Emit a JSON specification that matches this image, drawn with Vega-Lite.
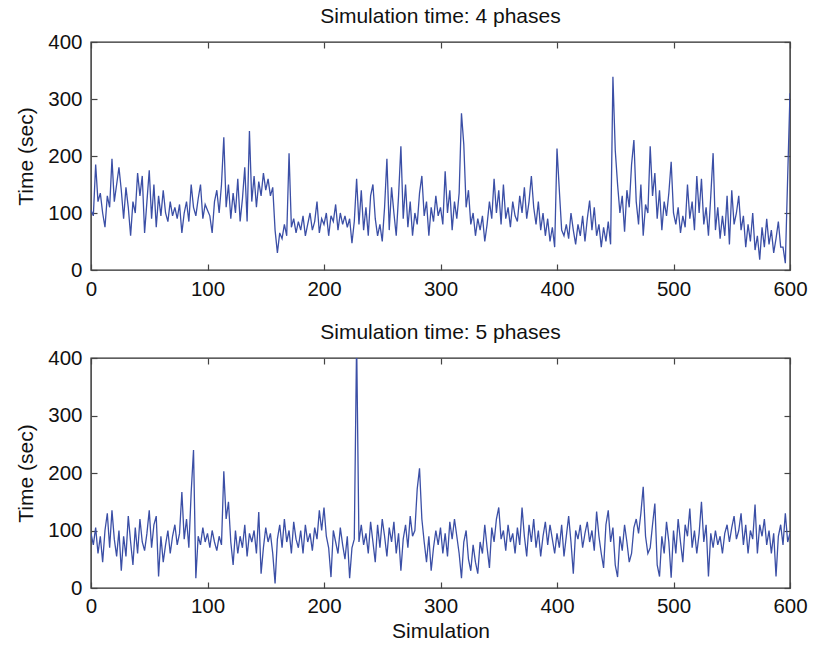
{
"$schema": "https://vega.github.io/schema/vega-lite/v6.json",
"background": "white",
"padding": {"left": 15, "top": 5, "right": 8, "bottom": 0},
"spacing": 20,
"config": {
 "font": "Liberation Sans",
 "view": {"stroke": "#2a2a2a", "strokeWidth": 1.4},
 "axis": {"labelFont": "Liberation Sans", "labelFontSize": 20.5, "labelColor": "#111", "titleFont": "Liberation Sans", "titleFontSize": 21, "titleFontWeight": "normal", "titleColor": "#111", "grid": false, "domain": false, "tickColor": "#444", "tickSize": -6, "tickWidth": 1.2, "labelFlush": false},
 "title": {"font": "Liberation Sans", "fontSize": 21, "fontWeight": "normal", "color": "#111", "offset": 5}
},
"datasets": {
"top": [
{"x":0,"y":105},{"x":2,"y":95},{"x":4,"y":185},{"x":6,"y":120},{"x":8,"y":135},{"x":10,"y":100},{"x":12,"y":75},{"x":14,"y":130},{"x":16,"y":110},{"x":18,"y":195},
{"x":20,"y":120},{"x":22,"y":150},{"x":24,"y":180},{"x":26,"y":140},{"x":28,"y":90},{"x":30,"y":145},{"x":32,"y":110},{"x":34,"y":60},{"x":36,"y":120},{"x":38,"y":100},
{"x":40,"y":170},{"x":42,"y":130},{"x":44,"y":165},{"x":46,"y":65},{"x":48,"y":120},{"x":50,"y":175},{"x":52,"y":90},{"x":54,"y":150},{"x":56,"y":75},{"x":58,"y":130},
{"x":60,"y":95},{"x":62,"y":140},{"x":64,"y":100},{"x":66,"y":85},{"x":68,"y":120},{"x":70,"y":95},{"x":72,"y":110},{"x":74,"y":90},{"x":76,"y":115},{"x":78,"y":65},
{"x":80,"y":100},{"x":82,"y":120},{"x":84,"y":85},{"x":86,"y":150},{"x":88,"y":110},{"x":90,"y":95},{"x":92,"y":125},{"x":94,"y":150},{"x":96,"y":90},{"x":98,"y":115},
{"x":100,"y":105},{"x":102,"y":95},{"x":104,"y":65},{"x":106,"y":120},{"x":108,"y":140},{"x":110,"y":100},{"x":112,"y":150},{"x":114,"y":233},{"x":116,"y":110},{"x":118,"y":150},
{"x":120,"y":90},{"x":122,"y":135},{"x":124,"y":100},{"x":126,"y":160},{"x":128,"y":85},{"x":130,"y":125},{"x":132,"y":180},{"x":134,"y":85},{"x":136,"y":244},{"x":138,"y":120},
{"x":140,"y":165},{"x":142,"y":110},{"x":144,"y":155},{"x":146,"y":130},{"x":148,"y":170},{"x":150,"y":140},{"x":152,"y":160},{"x":154,"y":130},{"x":156,"y":145},{"x":158,"y":70},
{"x":160,"y":30},{"x":162,"y":65},{"x":164,"y":55},{"x":166,"y":80},{"x":168,"y":60},{"x":170,"y":205},{"x":172,"y":75},{"x":174,"y":90},{"x":176,"y":65},{"x":178,"y":85},
{"x":180,"y":70},{"x":182,"y":95},{"x":184,"y":60},{"x":186,"y":80},{"x":188,"y":100},{"x":190,"y":70},{"x":192,"y":85},{"x":194,"y":120},{"x":196,"y":65},{"x":198,"y":90},
{"x":200,"y":80},{"x":202,"y":100},{"x":204,"y":60},{"x":206,"y":95},{"x":208,"y":85},{"x":210,"y":115},{"x":212,"y":70},{"x":214,"y":100},{"x":216,"y":80},{"x":218,"y":95},
{"x":220,"y":75},{"x":222,"y":90},{"x":224,"y":47},{"x":226,"y":85},{"x":228,"y":160},{"x":230,"y":80},{"x":232,"y":140},{"x":234,"y":70},{"x":236,"y":110},{"x":238,"y":60},
{"x":240,"y":130},{"x":242,"y":150},{"x":244,"y":90},{"x":246,"y":60},{"x":248,"y":80},{"x":250,"y":50},{"x":252,"y":110},{"x":254,"y":195},{"x":256,"y":70},{"x":258,"y":145},
{"x":260,"y":100},{"x":262,"y":60},{"x":264,"y":130},{"x":266,"y":217},{"x":268,"y":90},{"x":270,"y":150},{"x":272,"y":75},{"x":274,"y":120},{"x":276,"y":60},{"x":278,"y":100},
{"x":280,"y":80},{"x":282,"y":135},{"x":284,"y":165},{"x":286,"y":95},{"x":288,"y":120},{"x":290,"y":60},{"x":292,"y":110},{"x":294,"y":85},{"x":296,"y":130},{"x":298,"y":95},
{"x":300,"y":110},{"x":302,"y":80},{"x":304,"y":173},{"x":306,"y":100},{"x":308,"y":140},{"x":310,"y":70},{"x":312,"y":120},{"x":314,"y":90},{"x":316,"y":135},{"x":318,"y":275},
{"x":320,"y":220},{"x":322,"y":110},{"x":324,"y":140},{"x":326,"y":80},{"x":328,"y":100},{"x":330,"y":60},{"x":332,"y":90},{"x":334,"y":70},{"x":336,"y":95},{"x":338,"y":50},
{"x":340,"y":80},{"x":342,"y":120},{"x":344,"y":90},{"x":346,"y":160},{"x":348,"y":100},{"x":350,"y":140},{"x":352,"y":80},{"x":354,"y":150},{"x":356,"y":90},{"x":358,"y":110},
{"x":360,"y":75},{"x":362,"y":120},{"x":364,"y":95},{"x":366,"y":85},{"x":368,"y":130},{"x":370,"y":100},{"x":372,"y":145},{"x":374,"y":90},{"x":376,"y":120},{"x":378,"y":165},
{"x":380,"y":110},{"x":382,"y":80},{"x":384,"y":120},{"x":386,"y":70},{"x":388,"y":100},{"x":390,"y":60},{"x":392,"y":90},{"x":394,"y":50},{"x":396,"y":75},{"x":398,"y":40},
{"x":400,"y":213},{"x":402,"y":140},{"x":404,"y":70},{"x":406,"y":60},{"x":408,"y":80},{"x":410,"y":55},{"x":412,"y":100},{"x":414,"y":70},{"x":416,"y":45},{"x":418,"y":80},
{"x":420,"y":60},{"x":422,"y":95},{"x":424,"y":50},{"x":426,"y":90},{"x":428,"y":122},{"x":430,"y":70},{"x":432,"y":110},{"x":434,"y":60},{"x":436,"y":80},{"x":438,"y":40},
{"x":440,"y":75},{"x":442,"y":50},{"x":444,"y":85},{"x":446,"y":45},{"x":448,"y":339},{"x":450,"y":210},{"x":452,"y":150},{"x":454,"y":100},{"x":456,"y":130},{"x":458,"y":67},
{"x":460,"y":140},{"x":462,"y":110},{"x":464,"y":185},{"x":466,"y":228},{"x":468,"y":120},{"x":470,"y":80},{"x":472,"y":150},{"x":474,"y":60},{"x":476,"y":115},{"x":478,"y":100},
{"x":480,"y":217},{"x":482,"y":130},{"x":484,"y":170},{"x":486,"y":90},{"x":488,"y":140},{"x":490,"y":70},{"x":492,"y":120},{"x":494,"y":95},{"x":496,"y":135},{"x":498,"y":190},
{"x":500,"y":100},{"x":502,"y":80},{"x":504,"y":110},{"x":506,"y":65},{"x":508,"y":95},{"x":510,"y":75},{"x":512,"y":150},{"x":514,"y":90},{"x":516,"y":120},{"x":518,"y":70},
{"x":520,"y":165},{"x":522,"y":100},{"x":524,"y":160},{"x":526,"y":80},{"x":528,"y":110},{"x":530,"y":60},{"x":532,"y":130},{"x":534,"y":205},{"x":536,"y":70},{"x":538,"y":110},
{"x":540,"y":55},{"x":542,"y":95},{"x":544,"y":60},{"x":546,"y":130},{"x":548,"y":45},{"x":550,"y":140},{"x":552,"y":80},{"x":554,"y":100},{"x":556,"y":130},{"x":558,"y":70},
{"x":560,"y":95},{"x":562,"y":40},{"x":564,"y":80},{"x":566,"y":50},{"x":568,"y":100},{"x":570,"y":35},{"x":572,"y":60},{"x":574,"y":18},{"x":576,"y":75},{"x":578,"y":40},
{"x":580,"y":90},{"x":582,"y":45},{"x":584,"y":70},{"x":586,"y":30},{"x":588,"y":55},{"x":590,"y":85},{"x":592,"y":40},{"x":594,"y":40},{"x":596,"y":12},{"x":598,"y":163},
{"x":600,"y":310}
],
"bot": [
{"x":0,"y":95},{"x":2,"y":75},{"x":4,"y":105},{"x":6,"y":60},{"x":8,"y":90},{"x":10,"y":45},{"x":12,"y":100},{"x":14,"y":130},{"x":16,"y":70},{"x":18,"y":135},
{"x":20,"y":85},{"x":22,"y":55},{"x":24,"y":100},{"x":26,"y":30},{"x":28,"y":90},{"x":30,"y":55},{"x":32,"y":125},{"x":34,"y":80},{"x":36,"y":40},{"x":38,"y":105},
{"x":40,"y":60},{"x":42,"y":120},{"x":44,"y":80},{"x":46,"y":65},{"x":48,"y":95},{"x":50,"y":135},{"x":52,"y":70},{"x":54,"y":110},{"x":56,"y":125},{"x":58,"y":20},
{"x":60,"y":90},{"x":62,"y":45},{"x":64,"y":75},{"x":66,"y":100},{"x":68,"y":60},{"x":70,"y":90},{"x":72,"y":110},{"x":74,"y":75},{"x":76,"y":95},{"x":78,"y":167},
{"x":80,"y":85},{"x":82,"y":120},{"x":84,"y":70},{"x":86,"y":167},{"x":88,"y":240},{"x":90,"y":17},{"x":92,"y":90},{"x":94,"y":75},{"x":96,"y":105},{"x":98,"y":80},
{"x":100,"y":95},{"x":102,"y":70},{"x":104,"y":100},{"x":106,"y":80},{"x":108,"y":65},{"x":110,"y":90},{"x":112,"y":75},{"x":114,"y":203},{"x":116,"y":120},{"x":118,"y":150},
{"x":120,"y":80},{"x":122,"y":40},{"x":124,"y":100},{"x":126,"y":60},{"x":128,"y":90},{"x":130,"y":70},{"x":132,"y":110},{"x":134,"y":55},{"x":136,"y":95},{"x":138,"y":80},
{"x":140,"y":100},{"x":142,"y":60},{"x":144,"y":132},{"x":146,"y":25},{"x":148,"y":70},{"x":150,"y":105},{"x":152,"y":80},{"x":154,"y":95},{"x":156,"y":60},{"x":158,"y":8},
{"x":160,"y":85},{"x":162,"y":110},{"x":164,"y":70},{"x":166,"y":120},{"x":168,"y":80},{"x":170,"y":100},{"x":172,"y":60},{"x":174,"y":115},{"x":176,"y":85},{"x":178,"y":70},
{"x":180,"y":100},{"x":182,"y":60},{"x":184,"y":110},{"x":186,"y":80},{"x":188,"y":95},{"x":190,"y":65},{"x":192,"y":105},{"x":194,"y":85},{"x":196,"y":135},{"x":198,"y":100},
{"x":200,"y":140},{"x":202,"y":90},{"x":204,"y":70},{"x":206,"y":19},{"x":208,"y":100},{"x":210,"y":80},{"x":212,"y":60},{"x":214,"y":105},{"x":216,"y":75},{"x":218,"y":50},
{"x":220,"y":90},{"x":222,"y":17},{"x":224,"y":70},{"x":226,"y":85},{"x":228,"y":430},{"x":230,"y":80},{"x":232,"y":110},{"x":234,"y":75},{"x":236,"y":95},{"x":238,"y":60},
{"x":240,"y":115},{"x":242,"y":80},{"x":244,"y":45},{"x":246,"y":110},{"x":248,"y":70},{"x":250,"y":120},{"x":252,"y":90},{"x":254,"y":55},{"x":256,"y":105},{"x":258,"y":80},
{"x":260,"y":115},{"x":262,"y":60},{"x":264,"y":95},{"x":266,"y":30},{"x":268,"y":85},{"x":270,"y":110},{"x":272,"y":70},{"x":274,"y":125},{"x":276,"y":90},{"x":278,"y":100},
{"x":280,"y":172},{"x":282,"y":208},{"x":284,"y":120},{"x":286,"y":80},{"x":288,"y":45},{"x":290,"y":90},{"x":292,"y":30},{"x":294,"y":70},{"x":296,"y":100},{"x":298,"y":75},
{"x":300,"y":105},{"x":302,"y":60},{"x":304,"y":95},{"x":306,"y":55},{"x":308,"y":115},{"x":310,"y":85},{"x":312,"y":120},{"x":314,"y":90},{"x":316,"y":60},{"x":318,"y":17},
{"x":320,"y":80},{"x":322,"y":100},{"x":324,"y":50},{"x":326,"y":30},{"x":328,"y":75},{"x":330,"y":45},{"x":332,"y":25},{"x":334,"y":80},{"x":336,"y":60},{"x":338,"y":110},
{"x":340,"y":70},{"x":342,"y":35},{"x":344,"y":105},{"x":346,"y":80},{"x":348,"y":120},{"x":350,"y":140},{"x":352,"y":85},{"x":354,"y":100},{"x":356,"y":65},{"x":358,"y":110},
{"x":360,"y":80},{"x":362,"y":95},{"x":364,"y":60},{"x":366,"y":105},{"x":368,"y":75},{"x":370,"y":140},{"x":372,"y":90},{"x":374,"y":55},{"x":376,"y":110},{"x":378,"y":80},
{"x":380,"y":120},{"x":382,"y":70},{"x":384,"y":100},{"x":386,"y":55},{"x":388,"y":90},{"x":390,"y":115},{"x":392,"y":75},{"x":394,"y":110},{"x":396,"y":85},{"x":398,"y":60},
{"x":400,"y":95},{"x":402,"y":70},{"x":404,"y":110},{"x":406,"y":55},{"x":408,"y":90},{"x":410,"y":125},{"x":412,"y":80},{"x":414,"y":25},{"x":416,"y":100},{"x":418,"y":85},
{"x":420,"y":110},{"x":422,"y":70},{"x":424,"y":95},{"x":426,"y":115},{"x":428,"y":80},{"x":430,"y":100},{"x":432,"y":65},{"x":434,"y":133},{"x":436,"y":90},{"x":438,"y":60},
{"x":440,"y":35},{"x":442,"y":110},{"x":444,"y":135},{"x":446,"y":80},{"x":448,"y":105},{"x":450,"y":40},{"x":452,"y":19},{"x":454,"y":90},{"x":456,"y":65},{"x":458,"y":110},
{"x":460,"y":80},{"x":462,"y":45},{"x":464,"y":60},{"x":466,"y":105},{"x":468,"y":120},{"x":470,"y":95},{"x":472,"y":130},{"x":474,"y":176},{"x":476,"y":90},{"x":478,"y":60},
{"x":480,"y":70},{"x":482,"y":110},{"x":484,"y":147},{"x":486,"y":40},{"x":488,"y":20},{"x":490,"y":90},{"x":492,"y":60},{"x":494,"y":115},{"x":496,"y":80},{"x":498,"y":18},
{"x":500,"y":100},{"x":502,"y":60},{"x":504,"y":120},{"x":506,"y":80},{"x":508,"y":45},{"x":510,"y":110},{"x":512,"y":90},{"x":514,"y":138},{"x":516,"y":70},{"x":518,"y":100},
{"x":520,"y":60},{"x":522,"y":95},{"x":524,"y":150},{"x":526,"y":80},{"x":528,"y":110},{"x":530,"y":20},{"x":532,"y":95},{"x":534,"y":70},{"x":536,"y":100},{"x":538,"y":75},
{"x":540,"y":90},{"x":542,"y":60},{"x":544,"y":95},{"x":546,"y":110},{"x":548,"y":80},{"x":550,"y":105},{"x":552,"y":125},{"x":554,"y":85},{"x":556,"y":100},{"x":558,"y":130},
{"x":560,"y":75},{"x":562,"y":110},{"x":564,"y":60},{"x":566,"y":100},{"x":568,"y":85},{"x":570,"y":145},{"x":572,"y":60},{"x":574,"y":110},{"x":576,"y":90},{"x":578,"y":120},
{"x":580,"y":75},{"x":582,"y":100},{"x":584,"y":60},{"x":586,"y":95},{"x":588,"y":20},{"x":590,"y":90},{"x":592,"y":110},{"x":594,"y":75},{"x":596,"y":130},{"x":598,"y":80},
{"x":600,"y":95}
]
},
"vconcat": [
{
 "title": {"text": "Simulation time: 4 phases"},
 "width": 699, "height": 228,
 "data": {"name": "top"},
 "layer": [
  {"mark": {"type": "line", "color": "#3b4fa6", "strokeWidth": 1.3, "clip": true},
   "encoding": {
    "x": {"field": "x", "type": "quantitative", "scale": {"domain": [0, 600], "nice": false, "zero": false}, "axis": {"values": [0,100,200,300,400,500,600], "title": null, "labelPadding": 15}},
    "y": {"field": "y", "type": "quantitative", "scale": {"domain": [0, 400], "nice": false}, "axis": {"values": [0,100,200,300,400], "title": "Time (sec)", "labelPadding": 15, "titlePadding": 11}}
   }},
  {"mark": {"type": "line", "strokeOpacity": 0, "clip": true},
   "encoding": {
    "x": {"field": "x", "type": "quantitative", "scale": {"domain": [0, 600], "nice": false, "zero": false}, "axis": {"orient": "top", "values": [0,100,200,300,400,500,600], "labels": false, "title": null}},
    "y": {"field": "y", "type": "quantitative", "scale": {"domain": [0, 400], "nice": false}, "axis": {"orient": "right", "values": [0,100,200,300,400], "labels": false, "title": null}}
   }}
 ],
 "resolve": {"axis": {"x": "independent", "y": "independent"}}
},
{
 "title": {"text": "Simulation time: 5 phases"},
 "width": 699, "height": 230,
 "data": {"name": "bot"},
 "layer": [
  {"mark": {"type": "line", "color": "#3b4fa6", "strokeWidth": 1.3, "clip": true},
   "encoding": {
    "x": {"field": "x", "type": "quantitative", "scale": {"domain": [0, 600], "nice": false, "zero": false}, "axis": {"values": [0,100,200,300,400,500,600], "title": "Simulation", "labelPadding": 14, "titlePadding": 4}},
    "y": {"field": "y", "type": "quantitative", "scale": {"domain": [0, 400], "nice": false}, "axis": {"values": [0,100,200,300,400], "title": "Time (sec)", "labelPadding": 15, "titlePadding": 11}}
   }},
  {"mark": {"type": "line", "strokeOpacity": 0, "clip": true},
   "encoding": {
    "x": {"field": "x", "type": "quantitative", "scale": {"domain": [0, 600], "nice": false, "zero": false}, "axis": {"orient": "top", "values": [0,100,200,300,400,500,600], "labels": false, "title": null}},
    "y": {"field": "y", "type": "quantitative", "scale": {"domain": [0, 400], "nice": false}, "axis": {"orient": "right", "values": [0,100,200,300,400], "labels": false, "title": null}}
   }}
 ],
 "resolve": {"axis": {"x": "independent", "y": "independent"}}
}
]
}
